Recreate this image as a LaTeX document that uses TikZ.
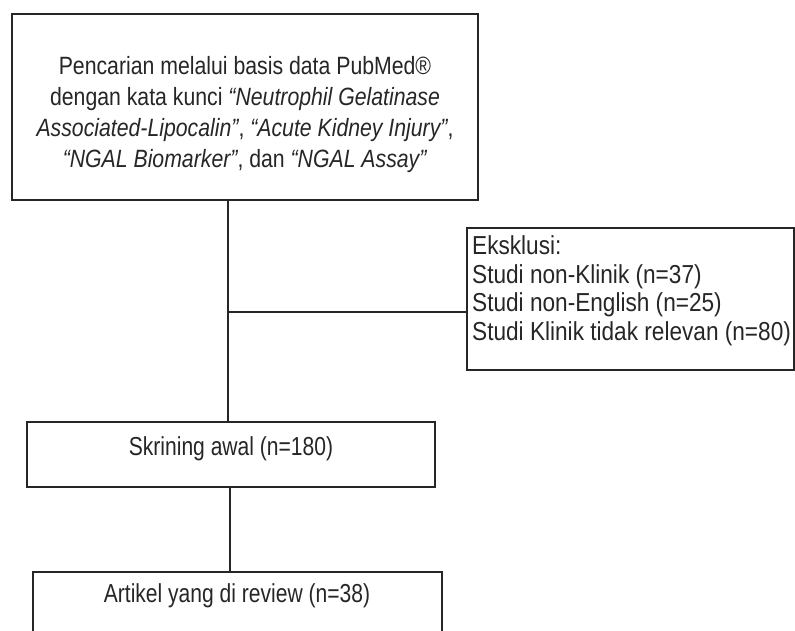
\documentclass[tikz,border=0pt]{standalone}
\usepackage{fontspec}
\setmainfont{Liberation Sans}
\newfontfamily\fntA[FakeStretch=0.85]{Liberation Sans}
\newfontfamily\fntB[FakeStretch=0.87]{Liberation Sans}
\newfontfamily\fntC[FakeStretch=0.81]{Liberation Sans}
\begin{document}
\begin{tikzpicture}[x=1pt,y=-1pt,
  box/.style={draw=black!85, line width=1.2pt, inner sep=0pt},
  txt/.style={inner sep=0pt, text=black!85},
  link/.style={draw=black!85, line width=1.2pt}]
\useasboundingbox (0,0) rectangle (795,630);
% boxes
\node[box, minimum width=466pt, minimum height=186pt] (top) at (245,107) {};
\node[box, minimum width=327pt, minimum height=142pt] (excl) at (630.5,299) {};
\node[box, minimum width=408pt, minimum height=65pt] (skr) at (231,454.5) {};
% texts
\node[txt, align=center, font=\fntA\fontsize{25}{31}\selectfont] (toptxt) at (245,115) {Pencarian melalui basis data PubMed®\\
dengan kata kunci \textit{“Neutrophil Gelatinase}\\
\textit{Associated-Lipocalin”}, \textit{“Acute Kidney Injury”},\\
\textit{“NGAL Biomarker”}, dan \textit{“NGAL Assay”}};
\node[txt, align=left, anchor=west, font=\fntB\fontsize{26}{28.5}\selectfont] (excltxt) at (472,291) {Eksklusi:\\
Studi non-Klinik (n=37)\\
Studi non-English (n=25)\\
Studi Klinik tidak relevan (n=80)};
\node[txt, font=\fntC\fontsize{26}{30}\selectfont] (skrtxt) at (231,449) {Skrining awal (n=180)};
\node[txt, font=\fntC\fontsize{26}{30}\selectfont] (art) at (237,596) {Artikel yang di review (n=38)};
% open article box (cut at bottom)
\coordinate (artNW) at (33,572);
\coordinate (artNE) at (442,572);
\draw[link] (33,631) -- (artNW) -- (artNE) -- (442,631);
% connectors
\coordinate (v) at (228,312);
\draw[link] (top.south -| v) -- (skr.north -| v);
\draw[link] (v) -- (excl.west |- v);
\coordinate (v2) at (230,530);
\draw[link] (skr.south -| v2) -- (artNW -| v2);
\end{tikzpicture}
\end{document}
